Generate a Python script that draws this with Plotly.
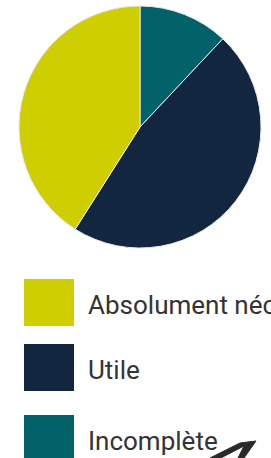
import plotly.graph_objects as go

# Data
categories = ["Absolument nécessaire", "Utile", "Incomplète"]
values = [41, 47, 12]
colors = ["#CECE00", "#12263F", "#03616A"]

W, H = 271, 458

def px(x, y):
    return x / W, 1 - y / H

# Pie drawn clockwise from 12 o'clock: Incomplète, Utile, Absolument nécessaire
order = [2, 1, 0]
dx0, dy0 = px(19, 248)
dx1, dy1 = px(261, 6)
fig = go.Figure(go.Pie(
    labels=[categories[i] for i in order],
    values=[values[i] for i in order],
    marker=dict(colors=[colors[i] for i in order], line=dict(color="#E8E8E8", width=1)),
    sort=False,
    direction="clockwise",
    rotation=0,
    textinfo="none",
    hoverinfo="label+percent",
    showlegend=False,
    domain=dict(x=[dx0, dx1], y=[dy0, dy1]),
))

shapes = []
annotations = []
tops = [279, 344, 415]
for i, cat in enumerate(categories):
    x0, y0 = px(24, tops[i])
    x1, y1 = px(74, tops[i] + 47)
    shapes.append(dict(type="rect", xref="paper", yref="paper",
                       x0=x0, y0=y1, x1=x1, y1=y0,
                       fillcolor=colors[i], line=dict(width=0), layer="above"))
    tx, ty = px(86, tops[i] + 26)
    annotations.append(dict(text=cat, xref="paper", yref="paper", x=tx, y=ty,
                            xanchor="left", yanchor="middle", showarrow=False,
                            font=dict(family="Roboto", size=26, color="#333333")))

# hand-drawn arrow head at bottom right
pts = [(213, 462), (244, 446), (238, 458), (244, 458), (256, 441), (240, 443), (210, 458)]
path = "M " + " L ".join(f"{px(x, y)[0]:.4f},{px(x, y)[1]:.4f}" for x, y in pts) + " Z"
shapes.append(dict(type="path", xref="paper", yref="paper", path=path,
                   fillcolor="#2a2a2a", line=dict(color="#2a2a2a", width=1)))

fig.update_layout(
    width=W, height=H,
    margin=dict(l=0, r=0, t=0, b=0),
    paper_bgcolor="white", plot_bgcolor="white",
    shapes=shapes, annotations=annotations,
)

fig.write_html(
    "out.html",
    config={"displayModeBar": False},
    post_script="document.body.style.margin='0';document.body.style.overflow='hidden';",
)
